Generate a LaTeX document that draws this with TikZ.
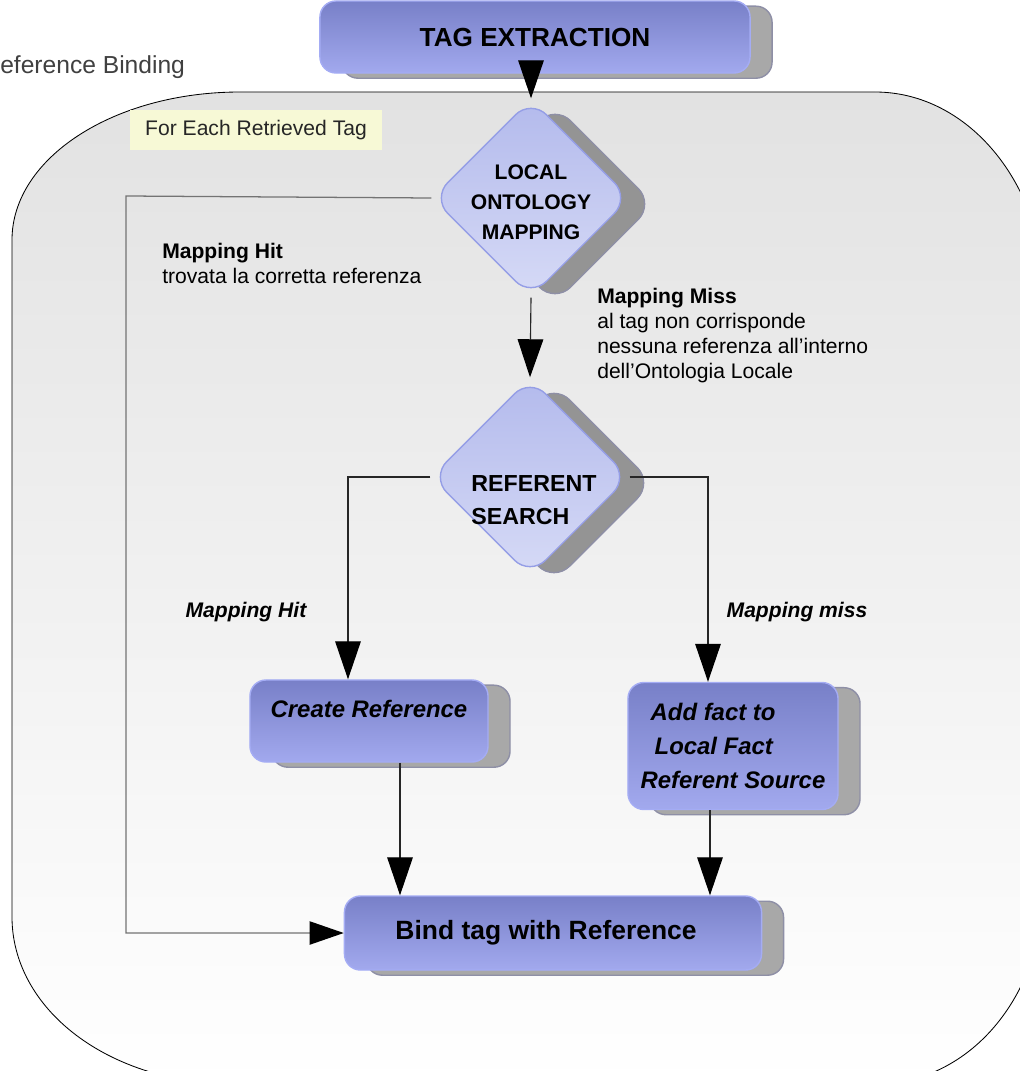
\documentclass[tikz,border=0pt]{standalone}
\usepackage{fontspec}
\setmainfont{Liberation Sans}
\usepackage{tikz}
\usetikzlibrary{shapes,shadows,arrows.meta}

\definecolor{boxtop}{HTML}{7880C8}
\definecolor{boxbottom}{HTML}{A2A9EE}
\definecolor{boxedge}{HTML}{A4ACF4}
\definecolor{decisiontop}{HTML}{B3BAEC}
\definecolor{decisionbottom}{HTML}{D6DAF6}
\definecolor{decisionedge}{HTML}{959EE6}
\definecolor{shadowfill}{HTML}{A8A8A8}
\definecolor{shadowedge}{HTML}{8E8FA6}
\definecolor{loopfill}{HTML}{E2E2E2}
\definecolor{notefill}{HTML}{F7F9D6}

\begin{document}
\begin{tikzpicture}[x=0.025cm,y=-0.025cm,
	process/.style={rectangle,rounded corners=0.4cm,top color=boxtop,bottom color=boxbottom,draw=boxedge,line width=1pt,
		general shadow={fill=shadowfill,draw=shadowedge,line width=1pt,shadow xshift=0.55cm,shadow yshift=-0.13cm}},
	decision/.style={diamond,rounded corners=0.55cm,inner sep=0pt,minimum width=4.95cm,minimum height=4.95cm,
		top color=decisiontop,bottom color=decisionbottom,draw=decisionedge,line width=1pt,
		general shadow={fill=shadowfill!88!black,draw=shadowedge,line width=1pt,shadow xshift=0.6cm,shadow yshift=-0.15cm}},
	flow/.style={draw=black!85,line width=0.8pt,-{Triangle[length=0.95cm,width=0.64cm,black]}},
	hitline/.style={draw=black!55,line width=0.9pt,-{Triangle[length=0.85cm,width=0.58cm,black]}},
	note/.style={anchor=north west,inner sep=0pt,align=left,font=\fontsize{15pt}{17.8pt}\selectfont}
]
\useasboundingbox (0,0) rectangle (1019,1071);

% loop region
\path[top color=loopfill,bottom color=white,draw=black,line width=0.6pt]
	(240,92) -- (875,92) .. controls (969,92) and (1045,185) .. (1045,300)
	-- (1045,880) .. controls (1045,990) and (975,1085) .. (870,1085)
	-- (242,1085) .. controls (105,1085) and (12,1007) .. (12,917)
	-- (12,240) .. controls (12,158) and (114,92) .. (240,92) -- cycle;

\node[anchor=base west,inner sep=0pt,font=\fontsize{17.5pt}{20pt}\selectfont,text=black!75] (title) at (0,74) {eference Binding};
\node[fill=notefill,minimum width=6.3cm,minimum height=1cm,font=\fontsize{15pt}{18pt}\selectfont,text=black!85] (eachtag) at (256,130) {For Each Retrieved Tag};

% steps
\node[process,minimum width=10.75cm,minimum height=1.8cm,font=\fontsize{18.6pt}{22pt}\selectfont\bfseries] (tag) at (535,37) {TAG EXTRACTION};
\node[decision,label={[font=\fontsize{15pt}{21.3pt}\selectfont\bfseries,align=center,yshift=-0.1cm]center:{LOCAL\\ONTOLOGY\\MAPPING}}] (local) at (531,198) {};
\node[decision,label={[font=\fontsize{16.5pt}{24pt}\selectfont\bfseries,align=left,xshift=0.1cm,yshift=-0.575cm]center:{REFERENT\\SEARCH}}] (referent) at (530,477) {};
\node[process,minimum width=5.95cm,minimum height=2.05cm,text depth=0.6cm,font=\fontsize{17pt}{20pt}\selectfont\bfseries\itshape] (create) at (369,721) {Create Reference};
\node[process,minimum width=5.25cm,minimum height=3.175cm,align=left,font=\fontsize{17pt}{24pt}\selectfont\bfseries\itshape] (addfact) at (733,746) {\hspace*{0.25cm}Add fact to\\\hspace*{0.35cm}Local Fact\\Referent Source};
\node[process,minimum width=10.425cm,minimum height=1.85cm,font=\fontsize{18.8pt}{22pt}\selectfont\bfseries] (bind) at (553,933) {\hspace*{-0.35cm}Bind tag with Reference};

% notes
\node[note] (hitnote) at (162,243) {\textbf{Mapping Hit}\\trovata la corretta referenza};
\node[note] (missnote) at (597,288) {\textbf{Mapping Miss}\\al tag non corrisponde\\nessuna referenza all’interno\\dell’Ontologia Locale};
\node[font=\fontsize{15pt}{18pt}\selectfont\bfseries\itshape] (hitlabel) at (246,612) {Mapping Hit};
\node[font=\fontsize{15pt}{18pt}\selectfont\bfseries\itshape] (misslabel) at (797,612) {Mapping miss};

% connectors
\coordinate (hitcorner) at (126,196);
\coordinate (createin) at ([xshift=-0.525cm]create.north);
\coordinate (addin) at ([xshift=-0.625cm]addfact.north);
\coordinate (createout) at ([xshift=0.775cm]create.south);
\coordinate (addout) at ([xshift=-0.575cm]addfact.south);

\draw[flow] (local.north |- tag.south) -- (local.north);
\draw[flow] (local.south) -- (referent.north);
\draw[hitline] (local.west) -- (hitcorner) |- (bind.west);
\draw[flow] (referent.west) -| (createin);
\draw[flow] (referent.east) -| (addin);
\draw[flow] (createout) -- (createout |- bind.north);
\draw[flow] (addout) -- (addout |- bind.north);
\end{tikzpicture}
\end{document}
